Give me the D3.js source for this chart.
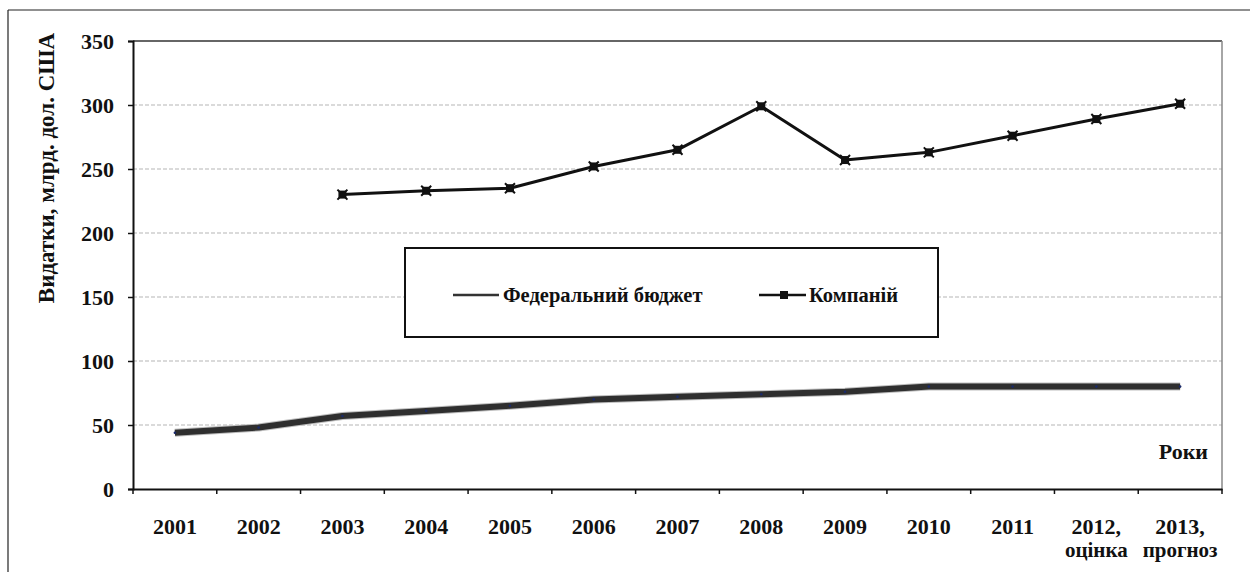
<!DOCTYPE html>
<html>
<head>
<meta charset="utf-8">
<script src="https://cdn.jsdelivr.net/npm/d3@7"></script>
<style>
  html, body { margin: 0; padding: 0; background: #fff; }
  svg { display: block; }
  text { font-family: "Liberation Serif", "Times New Roman", serif; font-weight: bold; fill: #111; }
</style>
</head>
<body>
<svg id="chart" width="1250" height="572"></svg>
<script>
const categories = ["2001","2002","2003","2004","2005","2006","2007","2008","2009","2010","2011","2012,","2013,"];
const categorySubLabels = ["","","","","","","","","","","","оцінка","прогноз"];
const federalBudget = [44,48,57,61,65,70,72,74,76,80,80,80,80];
const companies = [null,null,230,233,235,252,265,299,257,263,276,289,301];
const yTicks = [0,50,100,150,200,250,300,350];
const seriesNames = ["Федеральний бюджет","Компаній"];
const yTitle = "Видатки, млрд. дол. США";
const xTitle = "Роки";

const svg = d3.select("#chart");
const W = 1250, H = 572;
const m = {left: 133, right: 28, top: 41, bottom: 83};
const iw = W - m.left - m.right, ih = H - m.top - m.bottom;

// outer frame (top & left)
svg.append("line").attr("x1", 8).attr("x2", W).attr("y1", 10).attr("y2", 10).attr("stroke", "#222").attr("stroke-width", 1.2);
svg.append("line").attr("x1", 8).attr("x2", 8).attr("y1", 10).attr("y2", H).attr("stroke", "#222").attr("stroke-width", 1.2);

const x = d3.scaleBand().domain(categories).range([0, iw]).paddingInner(0).paddingOuter(0);
const y = d3.scaleLinear().domain([0, 350]).range([ih, 0]);

const g = svg.append("g").attr("transform", `translate(${m.left},${m.top})`);

// gridlines
g.append("g").selectAll("line").data(yTicks.filter(d => d > 0 && d < 350)).join("line")
  .attr("x1", 0).attr("x2", iw)
  .attr("y1", d => y(d)).attr("y2", d => y(d))
  .attr("stroke", "#b5b5b5").attr("stroke-width", 1.2).attr("stroke-dasharray", "4,2");

// plot border top & right
g.append("line").attr("x1", 0).attr("x2", iw).attr("y1", 0).attr("y2", 0).attr("stroke", "#333").attr("stroke-width", 1.5);
g.append("line").attr("x1", iw).attr("x2", iw).attr("y1", 0).attr("y2", ih).attr("stroke", "#888").attr("stroke-width", 1.5);

// y axis
const yAxis = d3.axisLeft(y).tickValues(yTicks).tickSize(5).tickPadding(14);
const ya = g.append("g").call(yAxis);
ya.select(".domain").attr("stroke", "#111").attr("stroke-width", 2);
ya.selectAll(".tick line").attr("stroke", "#111").attr("stroke-width", 1.5);
ya.selectAll(".tick text").style("font-size", "22px").attr("font-family", null).attr("fill", "#111");

// x axis
const xAxis = d3.axisBottom(x).tickSize(0).tickPadding(29);
const xa = g.append("g").attr("transform", `translate(0,${ih})`).call(xAxis);
xa.select(".domain").attr("stroke", "#111").attr("stroke-width", 2);
xa.selectAll(".tick text").style("font-size", "22px").attr("font-family", null).attr("fill", "#111");
// category boundary ticks
const boundaries = d3.range(categories.length + 1).map(i => i * x.bandwidth());
xa.append("g").selectAll("line").data(boundaries).join("line")
  .attr("x1", d => d).attr("x2", d => d).attr("y1", 0).attr("y2", 5)
  .attr("stroke", "#111").attr("stroke-width", 1.5);
// sub labels
xa.append("g").selectAll("text").data(categories).join("text")
  .attr("x", d => x(d) + x.bandwidth() / 2)
  .attr("y", 68)
  .attr("text-anchor", "middle")
  .style("font-size", "21px")
  .text((d, i) => categorySubLabels[i]);

// federal line
const fedData = categories.map((c, i) => ({c, v: federalBudget[i]}));
g.append("path").datum(fedData)
  .attr("fill", "none").attr("stroke", "#bdbdbd").attr("stroke-width", 8).attr("stroke-linejoin", "round")
  .attr("d", d3.line().x(d => x(d.c) + x.bandwidth() / 2).y(d => y(d.v)));
g.append("path").datum(fedData)
  .attr("fill", "none").attr("stroke", "#2f2f2f").attr("stroke-width", 6).attr("stroke-linejoin", "round")
  .attr("d", d3.line().x(d => x(d.c) + x.bandwidth() / 2).y(d => y(d.v)));
g.append("g").selectAll("circle").data(fedData).join("circle")
  .attr("cx", d => x(d.c) + x.bandwidth() / 2).attr("cy", d => y(d.v)).attr("r", 1.3).attr("fill", "#1a2a6a");

// companies line
const compData = categories.map((c, i) => ({c, v: companies[i]})).filter(d => d.v !== null);
g.append("path").datum(compData)
  .attr("fill", "none").attr("stroke", "#111").attr("stroke-width", 3).attr("stroke-linejoin", "round")
  .attr("d", d3.line().x(d => x(d.c) + x.bandwidth() / 2).y(d => y(d.v)));
const mk = g.append("g").selectAll("g").data(compData).join("g")
  .attr("transform", d => `translate(${x(d.c) + x.bandwidth() / 2},${y(d.v)})`);
mk.append("rect").attr("x", -4).attr("y", -4).attr("width", 8).attr("height", 8).attr("fill", "#111");
mk.append("path").attr("d", "M-5,-5L5,5M-5,5L5,-5").attr("stroke", "#111").attr("stroke-width", 2);

// x title
g.append("text").attr("x", iw - 14).attr("y", y(0) - 30).attr("text-anchor", "end")
  .style("font-size", "22px").text(xTitle);

// y title
svg.append("text").attr("transform", "translate(54,168) rotate(-90)").attr("text-anchor", "middle")
  .style("font-size", "23px").text(yTitle);

// legend
const lg = svg.append("g");
lg.append("rect").attr("x", 405).attr("y", 248).attr("width", 533).attr("height", 89)
  .attr("fill", "#fff").attr("stroke", "#111").attr("stroke-width", 2);
lg.append("line").attr("x1", 453).attr("x2", 499).attr("y1", 295).attr("y2", 295).attr("stroke", "#333").attr("stroke-width", 2.5);
lg.append("text").attr("x", 503).attr("y", 302).style("font-size", "20.5px").text(seriesNames[0]);
lg.append("line").attr("x1", 759).attr("x2", 806).attr("y1", 295).attr("y2", 295).attr("stroke", "#111").attr("stroke-width", 2.5);
lg.append("rect").attr("x", 780).attr("y", 291).attr("width", 8).attr("height", 8).attr("fill", "#111");
lg.append("text").attr("x", 809).attr("y", 302).style("font-size", "20.5px").text(seriesNames[1]);
</script>
</body>
</html>
